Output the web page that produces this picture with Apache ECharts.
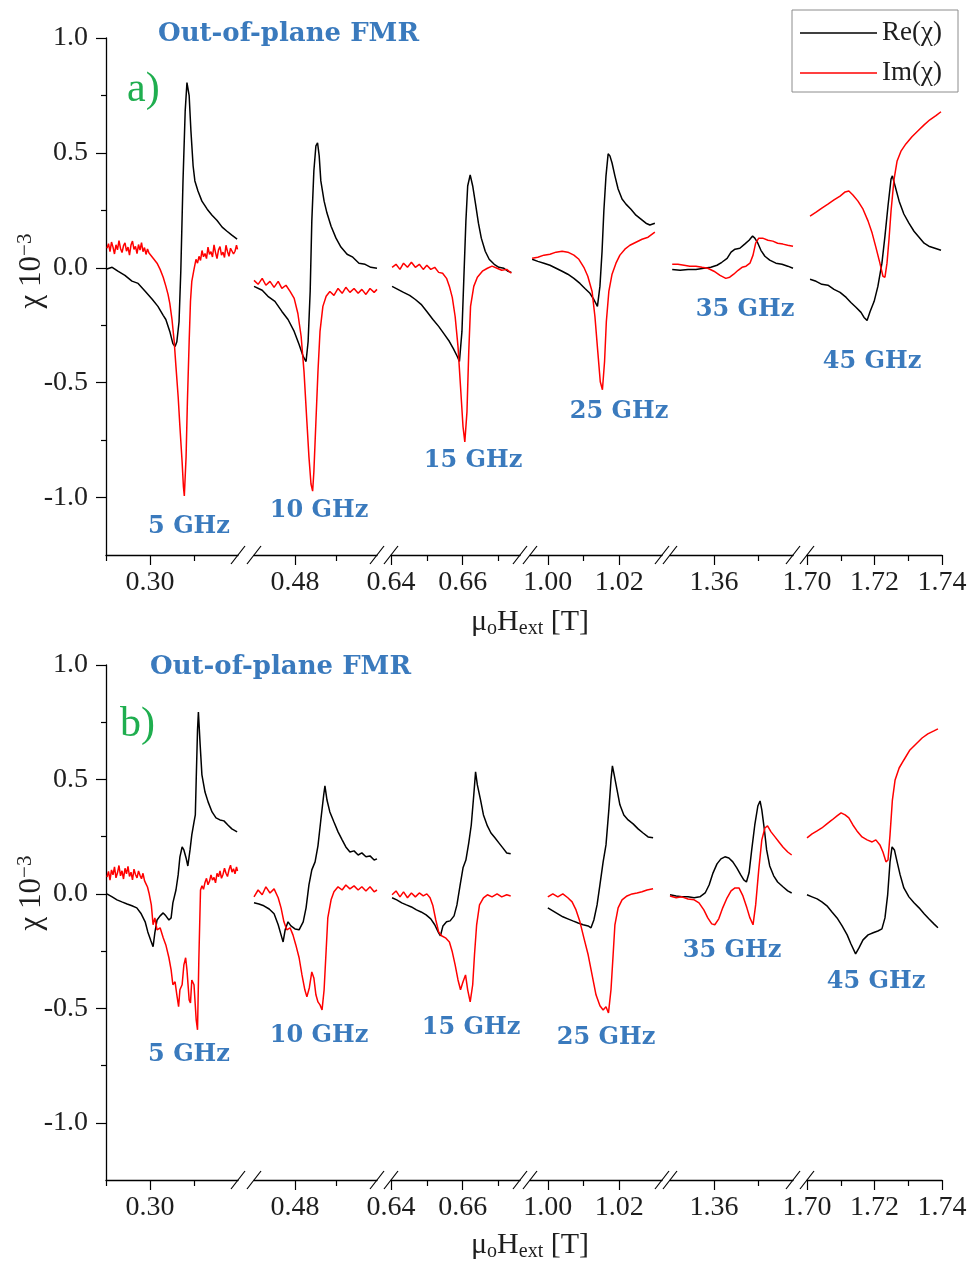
<!DOCTYPE html>
<html>
<head>
<meta charset="utf-8">
<script src="https://cdn.jsdelivr.net/npm/echarts@6/dist/echarts.min.js"></script>
<style>
  html, body { margin: 0; padding: 0; background: #fff; }
  #chart { width: 973px; height: 1264px; }
</style>
</head>
<body>
<div id="chart"></div>
<script>
// ---- Field windows of the broken x axis (T) ----
const segmentRanges = [[0.29, 0.32], [0.47, 0.50], [0.64, 0.676], [0.995, 1.032], [1.35, 1.378], [1.70, 1.74]];
const majorTicks = [[0.30], [0.48], [0.64, 0.66], [1.00, 1.02], [1.36], [1.70, 1.72, 1.74]];
const minorTicks = [[0.29, 0.31], [0.49], [0.65, 0.67], [1.01], [1.37], [1.71, 1.73]];
const yMajorTicks = [-1.0, -0.5, 0.0, 0.5, 1.0];
const yMinorTicks = [-0.75, -0.25, 0.25, 0.75];
const frequencies = ['5 GHz', '10 GHz', '15 GHz', '25 GHz', '35 GHz', '45 GHz'];

// ---- Panel a): [mu0*H (T), chi (1e-3)] ----
const reA1 = [[0.2902,-0.005],[0.2914,0.002],[0.2927,-0.015],[0.2943,-0.033],[0.2959,-0.058],[0.2973,-0.068],[0.2989,-0.102],[0.3005,-0.137],[0.3018,-0.168],[0.3030,-0.207],[0.3036,-0.225],[0.3045,-0.277],[0.3052,-0.330],[0.3057,-0.343],[0.3061,-0.322],[0.3066,-0.235],[0.3070,-0.015],[0.3075,0.378],[0.3080,0.683],[0.3084,0.806],[0.3089,0.749],[0.3093,0.596],[0.3098,0.443],[0.3102,0.378],[0.3109,0.334],[0.3118,0.290],[0.3130,0.255],[0.3141,0.229],[0.3152,0.207],[0.3164,0.177],[0.3175,0.159],[0.3186,0.142],[0.3198,0.125]];
const imA1 = [[0.29023,0.085],[0.29057,0.105],[0.29091,0.070],[0.29125,0.112],[0.29159,0.090],[0.29193,0.060],[0.29227,0.100],[0.29261,0.078],[0.29295,0.118],[0.29330,0.084],[0.29364,0.066],[0.29398,0.096],[0.29432,0.108],[0.29466,0.072],[0.29500,0.090],[0.29534,0.055],[0.29568,0.099],[0.29602,0.116],[0.29636,0.080],[0.29670,0.093],[0.29705,0.062],[0.29739,0.101],[0.29773,0.077],[0.29807,0.109],[0.29841,0.070],[0.29875,0.088],[0.29909,0.058],[0.29943,0.082],[0.29977,0.064],[0.30011,0.071],[0.3009,0.037],[0.3016,0.020],[0.3023,-0.007],[0.3030,-0.041],[0.3036,-0.080],[0.3041,-0.116],[0.3045,-0.155],[0.3050,-0.225],[0.3055,-0.321],[0.3059,-0.430],[0.3064,-0.561],[0.3068,-0.692],[0.3073,-0.845],[0.3076,-0.954],[0.3078,-0.993],[0.3082,-0.823],[0.3085,-0.583],[0.3089,-0.321],[0.3092,-0.146],[0.3095,-0.059],[0.3100,-0.007],[0.31045,0.037],[0.31080,0.020],[0.31114,0.050],[0.31148,0.032],[0.31182,0.075],[0.31216,0.048],[0.31250,0.062],[0.31284,0.040],[0.31318,0.090],[0.31352,0.058],[0.31386,0.070],[0.31420,0.047],[0.31455,0.100],[0.31489,0.066],[0.31523,0.040],[0.31557,0.078],[0.31591,0.092],[0.31625,0.055],[0.31659,0.068],[0.31693,0.045],[0.31727,0.098],[0.31761,0.071],[0.31795,0.050],[0.31830,0.085],[0.31864,0.093],[0.31898,0.060],[0.31932,0.072],[0.31966,0.098],[0.31989,0.080]];
const reA2 = [[0.4700,-0.081],[0.4720,-0.098],[0.4734,-0.124],[0.4751,-0.146],[0.4768,-0.190],[0.4783,-0.225],[0.4798,-0.277],[0.4810,-0.334],[0.4820,-0.386],[0.4827,-0.408],[0.4832,-0.321],[0.4837,-0.103],[0.4841,0.203],[0.4846,0.421],[0.4851,0.531],[0.4855,0.544],[0.4859,0.487],[0.4863,0.378],[0.4871,0.290],[0.4878,0.238],[0.4888,0.181],[0.4900,0.129],[0.4912,0.090],[0.4927,0.059],[0.4941,0.046],[0.4956,0.020],[0.4971,0.015],[0.4985,0.002],[0.5000,-0.002]];
const imA2 = [[0.4700,-0.055],[0.4710,-0.072],[0.4720,-0.046],[0.4729,-0.076],[0.4739,-0.059],[0.4749,-0.085],[0.4759,-0.059],[0.4768,-0.090],[0.4778,-0.076],[0.4788,-0.103],[0.4798,-0.133],[0.4807,-0.199],[0.4815,-0.299],[0.4822,-0.452],[0.4829,-0.670],[0.4834,-0.823],[0.4839,-0.941],[0.4843,-0.972],[0.4846,-0.889],[0.4851,-0.670],[0.4856,-0.452],[0.4861,-0.277],[0.4868,-0.168],[0.4876,-0.124],[0.4885,-0.103],[0.4895,-0.120],[0.4905,-0.090],[0.4915,-0.111],[0.4924,-0.085],[0.4934,-0.107],[0.4944,-0.090],[0.4954,-0.111],[0.4963,-0.094],[0.4973,-0.116],[0.4983,-0.090],[0.4993,-0.107],[0.5000,-0.094]];
const reA3 = [[0.6403,-0.081],[0.6419,-0.094],[0.6435,-0.107],[0.6452,-0.120],[0.6468,-0.138],[0.6484,-0.159],[0.6500,-0.190],[0.6517,-0.225],[0.6533,-0.255],[0.6549,-0.290],[0.6563,-0.321],[0.6574,-0.352],[0.6585,-0.386],[0.6591,-0.408],[0.6598,-0.277],[0.6603,-0.059],[0.6609,0.203],[0.6614,0.356],[0.6621,0.404],[0.6628,0.356],[0.6636,0.277],[0.6644,0.194],[0.6652,0.129],[0.6663,0.072],[0.6674,0.037],[0.6688,0.015],[0.6701,0.002],[0.6715,-0.002],[0.6726,-0.015],[0.6736,-0.020]];
const imA3 = [[0.6403,0.002],[0.6414,0.015],[0.6425,-0.007],[0.6435,0.020],[0.6446,0.002],[0.6457,0.024],[0.6468,0.002],[0.6479,0.015],[0.6490,-0.007],[0.6500,0.011],[0.6511,-0.007],[0.6522,0.002],[0.6533,-0.020],[0.6544,-0.024],[0.6555,-0.046],[0.6563,-0.081],[0.6571,-0.129],[0.6579,-0.212],[0.6587,-0.343],[0.6594,-0.517],[0.6601,-0.692],[0.6606,-0.758],[0.6612,-0.627],[0.6617,-0.365],[0.6622,-0.168],[0.6631,-0.081],[0.6641,-0.041],[0.6655,-0.015],[0.6669,-0.002],[0.6682,0.007],[0.6696,-0.002],[0.6709,-0.011],[0.6723,-0.007],[0.6736,-0.024]];
const reA4 = [[0.9956,0.037],[0.9972,0.028],[0.9989,0.020],[1.0006,0.011],[1.0023,-0.002],[1.0040,-0.015],[1.0056,-0.028],[1.0073,-0.046],[1.0090,-0.068],[1.0104,-0.090],[1.0118,-0.111],[1.0129,-0.138],[1.0139,-0.168],[1.0146,-0.081],[1.0152,0.072],[1.0157,0.247],[1.0163,0.400],[1.0169,0.496],[1.0174,0.487],[1.0180,0.456],[1.0188,0.400],[1.0197,0.343],[1.0208,0.299],[1.0219,0.277],[1.0233,0.255],[1.0247,0.229],[1.0261,0.212],[1.0275,0.194],[1.0286,0.186],[1.0300,0.194]];
const imA4 = [[0.9956,0.041],[0.9972,0.046],[0.9989,0.055],[1.0006,0.059],[1.0023,0.068],[1.0040,0.072],[1.0056,0.068],[1.0073,0.055],[1.0087,0.037],[1.0101,0.002],[1.0112,-0.037],[1.0124,-0.103],[1.0132,-0.212],[1.0140,-0.365],[1.0147,-0.496],[1.0153,-0.531],[1.0159,-0.408],[1.0164,-0.234],[1.0171,-0.103],[1.0180,-0.028],[1.0191,0.020],[1.0202,0.055],[1.0216,0.081],[1.0230,0.098],[1.0247,0.111],[1.0264,0.124],[1.0281,0.133],[1.0300,0.155]];
const reA5 = [[1.3505,-0.007],[1.3523,-0.011],[1.3541,-0.007],[1.3559,-0.007],[1.3577,-0.002],[1.3593,0.002],[1.3607,0.011],[1.3618,0.024],[1.3630,0.041],[1.3639,0.068],[1.3648,0.081],[1.3659,0.085],[1.3670,0.103],[1.3680,0.120],[1.3688,0.138],[1.3693,0.129],[1.3700,0.107],[1.3707,0.076],[1.3716,0.050],[1.3727,0.033],[1.3741,0.020],[1.3755,0.015],[1.3768,0.007],[1.3780,-0.002]];
const imA5 = [[1.3505,0.015],[1.3518,0.015],[1.3532,0.011],[1.3545,0.007],[1.3559,0.007],[1.3573,0.002],[1.3586,-0.002],[1.3600,-0.015],[1.3614,-0.033],[1.3627,-0.046],[1.3636,-0.041],[1.3645,-0.028],[1.3655,-0.011],[1.3664,0.002],[1.3673,0.007],[1.3682,0.020],[1.3689,0.055],[1.3695,0.107],[1.3702,0.129],[1.3711,0.129],[1.3723,0.120],[1.3734,0.116],[1.3745,0.107],[1.3757,0.103],[1.3768,0.098],[1.3780,0.094]];
const reA6 = [[1.7009,-0.050],[1.7027,-0.059],[1.7044,-0.072],[1.7062,-0.076],[1.7080,-0.094],[1.7098,-0.107],[1.7116,-0.129],[1.7130,-0.151],[1.7145,-0.172],[1.7160,-0.194],[1.7169,-0.216],[1.7178,-0.229],[1.7187,-0.190],[1.7199,-0.146],[1.7210,-0.081],[1.7222,0.020],[1.7231,0.138],[1.7240,0.269],[1.7249,0.386],[1.7253,0.400],[1.7261,0.356],[1.7273,0.290],[1.7287,0.234],[1.7302,0.194],[1.7317,0.159],[1.7332,0.133],[1.7347,0.107],[1.7361,0.094],[1.7379,0.085],[1.7397,0.076]];
const imA6 = [[1.7009,0.225],[1.7027,0.242],[1.7044,0.260],[1.7062,0.277],[1.7080,0.295],[1.7098,0.312],[1.7113,0.330],[1.7124,0.334],[1.7136,0.317],[1.7151,0.290],[1.7166,0.255],[1.7181,0.203],[1.7193,0.151],[1.7204,0.090],[1.7216,0.020],[1.7225,-0.037],[1.7231,-0.041],[1.7237,0.020],[1.7243,0.124],[1.7249,0.247],[1.7258,0.386],[1.7267,0.465],[1.7279,0.509],[1.7293,0.539],[1.7311,0.570],[1.7329,0.596],[1.7347,0.622],[1.7364,0.644],[1.7382,0.662],[1.7397,0.679]];

// ---- Panel b) ----
const reB1 = [[0.2902,0.000],[0.2914,-0.013],[0.2925,-0.026],[0.2936,-0.035],[0.2948,-0.044],[0.2959,-0.052],[0.2970,-0.061],[0.2980,-0.087],[0.2989,-0.122],[0.2995,-0.166],[0.3002,-0.205],[0.3007,-0.231],[0.3011,-0.170],[0.3016,-0.114],[0.3023,-0.096],[0.3030,-0.083],[0.3036,-0.096],[0.3043,-0.114],[0.3048,-0.105],[0.3052,-0.039],[0.3059,0.017],[0.3064,0.083],[0.3068,0.162],[0.3073,0.205],[0.3077,0.192],[0.3082,0.157],[0.3086,0.122],[0.3091,0.192],[0.3095,0.258],[0.3100,0.314],[0.3103,0.345],[0.3105,0.498],[0.3108,0.716],[0.3110,0.795],[0.3114,0.651],[0.3118,0.520],[0.3125,0.445],[0.3132,0.402],[0.3141,0.358],[0.3150,0.332],[0.3159,0.323],[0.3168,0.319],[0.3177,0.301],[0.3186,0.284],[0.3198,0.271]];
const imB1 = [[0.29023,0.074],[0.29057,0.098],[0.29091,0.060],[0.29125,0.105],[0.29159,0.083],[0.29193,0.118],[0.29227,0.070],[0.29261,0.092],[0.29295,0.124],[0.29330,0.079],[0.29364,0.101],[0.29398,0.065],[0.29432,0.112],[0.29466,0.088],[0.29500,0.120],[0.29534,0.076],[0.29568,0.095],[0.29602,0.061],[0.29636,0.108],[0.29670,0.085],[0.29705,0.070],[0.29739,0.100],[0.29773,0.081],[0.29807,0.066],[0.29841,0.090],[0.29875,0.058],[0.29909,0.044],[0.29943,0.030],[0.29977,0.004],[0.3003,-0.048],[0.3007,-0.135],[0.3011,-0.105],[0.3016,-0.157],[0.3023,-0.148],[0.3030,-0.192],[0.3036,-0.223],[0.3043,-0.279],[0.3048,-0.332],[0.3052,-0.397],[0.3057,-0.384],[0.3061,-0.441],[0.3065,-0.493],[0.3068,-0.419],[0.3073,-0.397],[0.3077,-0.310],[0.3081,-0.279],[0.3084,-0.332],[0.3089,-0.463],[0.3092,-0.476],[0.3095,-0.376],[0.3100,-0.397],[0.3105,-0.550],[0.3108,-0.594],[0.3111,-0.288],[0.31148,0.017],[0.31182,0.035],[0.31216,0.020],[0.31250,0.050],[0.31284,0.068],[0.31318,0.040],[0.31352,0.055],[0.31386,0.083],[0.31420,0.060],[0.31455,0.072],[0.31489,0.048],[0.31523,0.090],[0.31557,0.075],[0.31591,0.100],[0.31625,0.068],[0.31659,0.085],[0.31693,0.112],[0.31727,0.090],[0.31761,0.076],[0.31795,0.105],[0.31830,0.125],[0.31864,0.095],[0.31898,0.110],[0.31932,0.088],[0.31966,0.118],[0.31989,0.100]];
const reB2 = [[0.4700,-0.039],[0.4712,-0.044],[0.4724,-0.052],[0.4737,-0.066],[0.4749,-0.087],[0.4759,-0.135],[0.4766,-0.179],[0.4771,-0.210],[0.4776,-0.157],[0.4783,-0.122],[0.4790,-0.140],[0.4800,-0.153],[0.4810,-0.157],[0.4820,-0.122],[0.4827,-0.061],[0.4834,0.039],[0.4841,0.105],[0.4849,0.140],[0.4856,0.210],[0.4863,0.323],[0.4870,0.432],[0.4873,0.472],[0.4878,0.410],[0.4885,0.358],[0.4895,0.314],[0.4905,0.271],[0.4915,0.236],[0.4924,0.205],[0.4934,0.183],[0.4944,0.188],[0.4954,0.170],[0.4963,0.179],[0.4973,0.162],[0.4983,0.166],[0.4993,0.148],[0.5000,0.153]];
const imB2 = [[0.4700,-0.013],[0.4710,0.017],[0.4720,-0.004],[0.4729,0.031],[0.4739,0.004],[0.4749,0.022],[0.4759,-0.017],[0.4766,-0.061],[0.4773,-0.122],[0.4780,-0.157],[0.4788,-0.148],[0.4795,-0.179],[0.4802,-0.223],[0.4810,-0.279],[0.4817,-0.354],[0.4824,-0.419],[0.4829,-0.450],[0.4835,-0.410],[0.4841,-0.341],[0.4846,-0.367],[0.4851,-0.441],[0.4856,-0.472],[0.4861,-0.485],[0.4866,-0.507],[0.4871,-0.419],[0.4876,-0.245],[0.4880,-0.105],[0.4888,-0.026],[0.4895,0.009],[0.4905,0.031],[0.4915,0.017],[0.4924,0.039],[0.4934,0.022],[0.4944,0.035],[0.4954,0.017],[0.4963,0.031],[0.4973,0.013],[0.4983,0.031],[0.4993,0.009],[0.5000,0.017]];
const reB3 = [[0.6403,-0.017],[0.6416,-0.026],[0.6430,-0.039],[0.6443,-0.048],[0.6457,-0.057],[0.6471,-0.070],[0.6484,-0.079],[0.6498,-0.092],[0.6511,-0.109],[0.6522,-0.135],[0.6533,-0.170],[0.6538,-0.183],[0.6545,-0.140],[0.6555,-0.122],[0.6565,-0.118],[0.6576,-0.096],[0.6584,-0.048],[0.6593,0.039],[0.6601,0.114],[0.6609,0.148],[0.6617,0.223],[0.6624,0.301],[0.6631,0.432],[0.6636,0.533],[0.6641,0.476],[0.6650,0.410],[0.6658,0.345],[0.6669,0.297],[0.6679,0.266],[0.6690,0.245],[0.6701,0.223],[0.6712,0.201],[0.6723,0.179],[0.6734,0.175]];
const imB3 = [[0.6403,-0.004],[0.6414,0.013],[0.6425,-0.013],[0.6435,0.009],[0.6446,-0.017],[0.6457,0.004],[0.6468,-0.013],[0.6479,0.004],[0.6490,-0.009],[0.6500,0.000],[0.6509,-0.017],[0.6517,-0.052],[0.6525,-0.114],[0.6533,-0.166],[0.6541,-0.183],[0.6552,-0.192],[0.6563,-0.210],[0.6571,-0.253],[0.6579,-0.310],[0.6587,-0.376],[0.6594,-0.419],[0.6601,-0.384],[0.6608,-0.354],[0.6614,-0.419],[0.6621,-0.472],[0.6628,-0.397],[0.6633,-0.266],[0.6639,-0.135],[0.6647,-0.048],[0.6658,-0.017],[0.6669,-0.004],[0.6682,-0.013],[0.6696,0.000],[0.6709,-0.013],[0.6723,-0.004],[0.6734,-0.009]];
const reB4 = [[1.0000,-0.061],[1.0014,-0.074],[1.0028,-0.087],[1.0042,-0.100],[1.0056,-0.109],[1.0070,-0.118],[1.0085,-0.127],[1.0099,-0.135],[1.0113,-0.140],[1.0121,-0.148],[1.0129,-0.114],[1.0138,-0.048],[1.0146,0.039],[1.0155,0.140],[1.0163,0.214],[1.0171,0.367],[1.0177,0.498],[1.0181,0.559],[1.0186,0.520],[1.0194,0.454],[1.0202,0.389],[1.0213,0.345],[1.0225,0.323],[1.0239,0.306],[1.0253,0.284],[1.0267,0.266],[1.0281,0.249],[1.0295,0.245]];
const imB4 = [[1.0000,-0.013],[1.0014,0.000],[1.0028,-0.013],[1.0042,0.000],[1.0056,-0.017],[1.0068,-0.035],[1.0079,-0.070],[1.0090,-0.122],[1.0101,-0.192],[1.0113,-0.266],[1.0124,-0.354],[1.0135,-0.441],[1.0146,-0.489],[1.0155,-0.507],[1.0163,-0.493],[1.0170,-0.520],[1.0177,-0.419],[1.0183,-0.266],[1.0188,-0.135],[1.0197,-0.061],[1.0208,-0.026],[1.0222,-0.009],[1.0236,0.000],[1.0250,0.004],[1.0264,0.009],[1.0278,0.017],[1.0295,0.022]];
const reB5 = [[1.3500,-0.004],[1.3514,-0.009],[1.3527,-0.013],[1.3541,-0.013],[1.3555,-0.017],[1.3568,-0.013],[1.3580,0.004],[1.3589,0.039],[1.3598,0.092],[1.3607,0.131],[1.3616,0.153],[1.3625,0.162],[1.3634,0.157],[1.3643,0.140],[1.3652,0.114],[1.3661,0.083],[1.3668,0.061],[1.3674,0.052],[1.3680,0.092],[1.3686,0.192],[1.3693,0.301],[1.3700,0.384],[1.3705,0.406],[1.3709,0.367],[1.3715,0.279],[1.3720,0.192],[1.3727,0.122],[1.3736,0.079],[1.3745,0.052],[1.3757,0.031],[1.3768,0.013],[1.3777,0.004]];
const imB5 = [[1.3500,-0.009],[1.3514,-0.017],[1.3527,-0.013],[1.3541,-0.022],[1.3555,-0.026],[1.3566,-0.039],[1.3577,-0.070],[1.3586,-0.105],[1.3595,-0.131],[1.3602,-0.135],[1.3611,-0.109],[1.3620,-0.061],[1.3630,-0.017],[1.3639,0.013],[1.3648,0.026],[1.3657,0.026],[1.3666,-0.009],[1.3675,-0.061],[1.3682,-0.105],[1.3689,-0.135],[1.3695,-0.048],[1.3702,0.105],[1.3709,0.236],[1.3716,0.288],[1.3722,0.297],[1.3730,0.271],[1.3739,0.249],[1.3748,0.227],[1.3757,0.205],[1.3768,0.183],[1.3777,0.170]];
const reB6 = [[1.7000,-0.004],[1.7015,-0.013],[1.7030,-0.022],[1.7044,-0.035],[1.7059,-0.052],[1.7074,-0.079],[1.7089,-0.105],[1.7104,-0.140],[1.7119,-0.179],[1.7130,-0.218],[1.7144,-0.262],[1.7154,-0.236],[1.7166,-0.201],[1.7181,-0.179],[1.7196,-0.170],[1.7210,-0.162],[1.7222,-0.153],[1.7231,-0.105],[1.7239,-0.004],[1.7246,0.140],[1.7252,0.205],[1.7259,0.192],[1.7267,0.140],[1.7276,0.083],[1.7287,0.026],[1.7302,-0.013],[1.7317,-0.039],[1.7332,-0.061],[1.7347,-0.087],[1.7361,-0.109],[1.7376,-0.131],[1.7388,-0.148]];
const imB6 = [[1.7000,0.245],[1.7015,0.262],[1.7030,0.275],[1.7044,0.288],[1.7059,0.306],[1.7074,0.323],[1.7089,0.341],[1.7101,0.354],[1.7113,0.345],[1.7124,0.332],[1.7136,0.301],[1.7148,0.275],[1.7163,0.249],[1.7178,0.236],[1.7193,0.227],[1.7204,0.236],[1.7216,0.214],[1.7225,0.183],[1.7234,0.140],[1.7240,0.148],[1.7246,0.258],[1.7253,0.410],[1.7261,0.498],[1.7273,0.550],[1.7287,0.585],[1.7305,0.629],[1.7323,0.655],[1.7341,0.681],[1.7358,0.699],[1.7376,0.712],[1.7388,0.721]];

const panels = [
  { re: [reA1, reA2, reA3, reA4, reA5, reA6], im: [imA1, imA2, imA3, imA4, imA5, imA6], letter: 'a)' },
  { re: [reB1, reB2, reB3, reB4, reB5, reB6], im: [imB1, imB2, imB3, imB4, imB5, imB6], letter: 'b)' }
];

// ---- Layout ----
const SERIF = '"Liberation Serif", "DejaVu Serif", serif';
const BOLD_SERIF = '"DejaVu Serif", "Liberation Serif", serif';
const BLUE = '#3a7abd';
const GREEN = '#1fae4f';
const TEXT = '#1e1e1e';
const SEG_PX = [[106, 238], [254, 377], [391, 520], [530, 662], [670, 793], [807, 942]];
const PANEL_BOX = [{ top: 38, height: 517 }, { top: 665, height: 515 }];
const TITLE_POS = [[158, 34], [150, 667]];
const LETTER_POS = [[127, 90], [120, 725]];
const XNAME_POS = [[530, 622], [530, 1245]];
const YNAME_POS = [[32, 271], [32, 893]];
const FREQ_POS = [
  [[189, 527], [319, 511], [473, 461], [619, 412], [745, 310], [872, 362]],
  [[189, 1055], [319, 1036], [471, 1028], [606, 1038], [732, 951], [876, 982]]
];

const grid = [], xAxis = [], yAxis = [], series = [], graphic = [];
const minorY = [];

panels.forEach((panel, p) => {
  const box = PANEL_BOX[p];
  for (let s = 0; s < 6; s++) {
    const gi = p * 6 + s;
    grid.push({ left: SEG_PX[s][0], width: SEG_PX[s][1] - SEG_PX[s][0], top: box.top, height: box.height });
    // major ticks + labels
    xAxis.push({
      type: 'value', gridIndex: gi, min: segmentRanges[s][0], max: segmentRanges[s][1], position: 'bottom',
      axisLine: { show: true, onZero: false, lineStyle: { color: '#000', width: 1.3 } },
      axisTick: { show: true, customValues: majorTicks[s], length: 10, lineStyle: { color: '#000', width: 1.2 } },
      axisLabel: { show: true, customValues: majorTicks[s], formatter: v => v.toFixed(2), margin: 14,
        fontFamily: SERIF, fontSize: 28, color: TEXT },
      splitLine: { show: false }
    });
    // minor ticks
    xAxis.push({
      type: 'value', gridIndex: gi, min: segmentRanges[s][0], max: segmentRanges[s][1], position: 'bottom',
      axisLine: { show: false, onZero: false },
      axisTick: { show: true, customValues: minorTicks[s], length: 6, lineStyle: { color: '#000', width: 1.2 } },
      axisLabel: { show: false }, splitLine: { show: false }
    });
    yAxis.push({
      type: 'value', gridIndex: gi, min: -1.25, max: 1.0, show: s === 0, position: 'left',
      axisLine: { show: true, onZero: false, lineStyle: { color: '#000', width: 1.3 } },
      axisTick: { show: true, customValues: yMajorTicks, length: 10, lineStyle: { color: '#000', width: 1.2 } },
      axisLabel: { show: true, customValues: yMajorTicks, formatter: v => v.toFixed(1), margin: 18,
        fontFamily: SERIF, fontSize: 28, color: TEXT },
      splitLine: { show: false }
    });
    const xi = gi * 2;
    series.push({
      type: 'line', name: 'Re(χ)', xAxisIndex: xi, yAxisIndex: gi, data: panel.re[s],
      showSymbol: false, symbol: 'none', lineStyle: { color: '#000', width: 1.5 }, itemStyle: { color: '#000' },
      silent: true, animation: false
    });
    series.push({
      type: 'line', name: 'Im(χ)', xAxisIndex: xi, yAxisIndex: gi, data: panel.im[s],
      showSymbol: false, symbol: 'none', lineStyle: { color: '#ff0000', width: 1.5 }, itemStyle: { color: '#ff0000' },
      silent: true, animation: false
    });
    // frequency label
    graphic.push({
      type: 'text', x: FREQ_POS[p][s][0], y: FREQ_POS[p][s][1],
      style: { text: frequencies[s], font: 'bold 24px ' + BOLD_SERIF, fill: BLUE,
        align: 'center', verticalAlign: 'middle' }
    });
  }
  // axis breaks
  const axisY = box.top + box.height;
  for (let s = 0; s < 5; s++) {
    [SEG_PX[s][1], SEG_PX[s + 1][0]].forEach(x => graphic.push({
      type: 'line', shape: { x1: x - 7, y1: axisY + 9, x2: x + 7, y2: axisY - 9 },
      style: { stroke: '#000', lineWidth: 1.2 }
    }));
  }
  graphic.push({
    type: 'text', x: TITLE_POS[p][0], y: TITLE_POS[p][1],
    style: { text: 'Out-of-plane FMR', font: 'bold 26px ' + BOLD_SERIF, fill: BLUE,
      align: 'left', verticalAlign: 'middle' }
  });
  graphic.push({
    type: 'text', x: LETTER_POS[p][0], y: LETTER_POS[p][1],
    style: { text: panel.letter, font: '42px ' + SERIF, fill: GREEN,
      align: 'left', verticalAlign: 'middle' }
  });
  graphic.push({
    type: 'text', x: XNAME_POS[p][0], y: XNAME_POS[p][1],
    style: {
      text: '{n|μ}{s|o}{n|H}{s|ext}{n| [T]}', align: 'center', verticalAlign: 'middle',
      rich: {
        n: { fontFamily: SERIF, fontSize: 30, fill: TEXT, lineHeight: 34 },
        s: { fontFamily: SERIF, fontSize: 20, fill: TEXT, lineHeight: 20, padding: [14, 0, 0, 0] }
      }
    }
  });
  graphic.push({
    type: 'text', x: YNAME_POS[p][0], y: YNAME_POS[p][1], rotation: Math.PI / 2,
    style: {
      text: '{n|χ 10}{s|−3}', align: 'center', verticalAlign: 'middle',
      rich: {
        n: { fontFamily: SERIF, fontSize: 31, fill: TEXT, lineHeight: 34 },
        s: { fontFamily: SERIF, fontSize: 21, fill: TEXT, lineHeight: 21, padding: [0, 0, 14, 0] }
      }
    }
  });
  // minor y ticks on the first window of each panel
  minorY.push({
    type: 'value', gridIndex: p * 6, min: -1.25, max: 1.0, position: 'left',
    axisLine: { show: false, onZero: false },
    axisTick: { show: true, customValues: yMinorTicks, length: 5, lineStyle: { color: '#000', width: 1.2 } },
    axisLabel: { show: false }, splitLine: { show: false }
  });
});
minorY.forEach(a => yAxis.push(a));

const chart = echarts.init(document.getElementById('chart'), null, { renderer: 'canvas' });
chart.setOption({
  backgroundColor: '#fff',
  animation: false,
  grid, xAxis, yAxis, series,
  legend: {
    data: [{ name: 'Re(χ)', icon: 'rect' }, { name: 'Im(χ)', icon: 'rect' }],
    orient: 'vertical', left: 792, top: 10,
    itemWidth: 77, itemHeight: 1.6, itemGap: 10, padding: [8, 8, 4, 8],
    borderColor: '#8c8c8c', borderWidth: 1, backgroundColor: '#fff',
    textStyle: { fontFamily: SERIF, fontSize: 27, color: TEXT, lineHeight: 30, width: 68 },
    selectedMode: false
  },
  graphic: { elements: graphic }
});
</script>
</body>
</html>
